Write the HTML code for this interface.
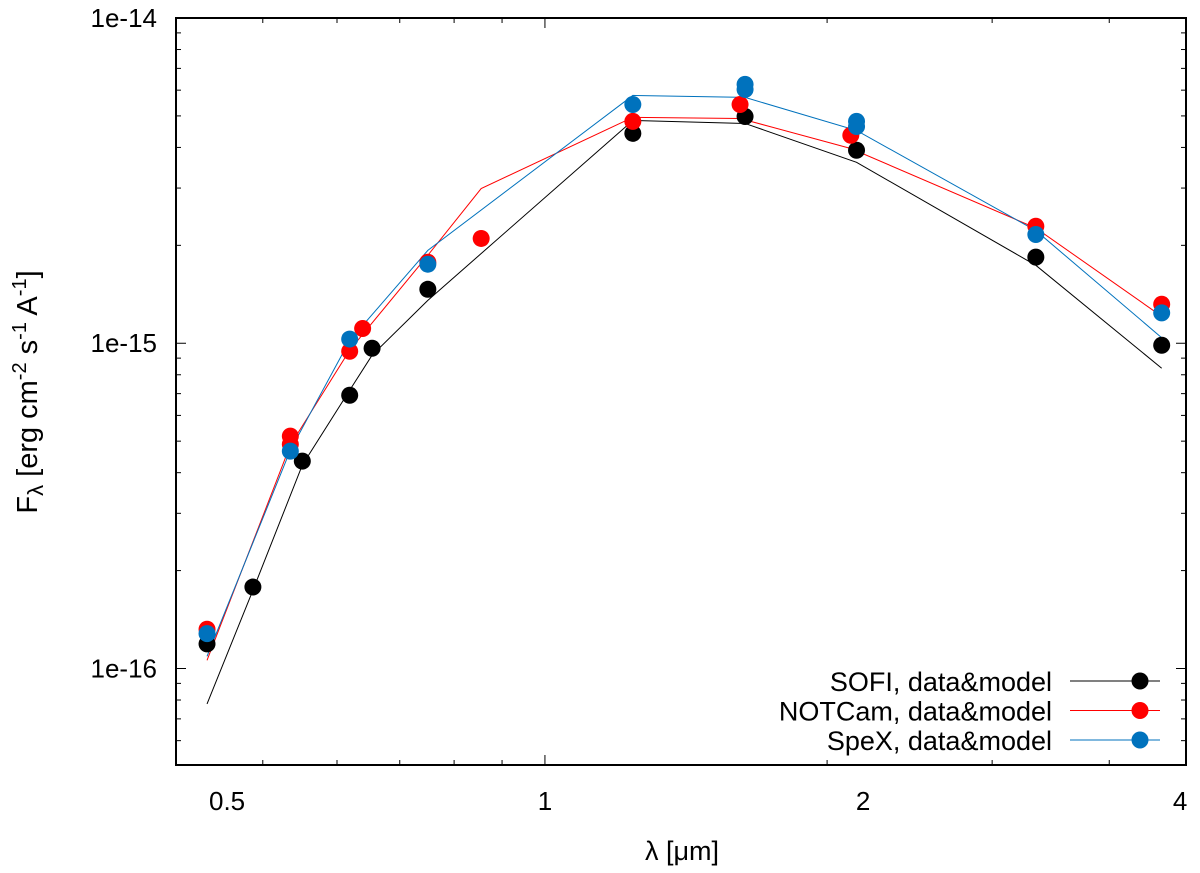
<!DOCTYPE html>
<html><head><meta charset="utf-8"><style>
body{margin:0;background:#fff;}
svg text{font-family:"Liberation Sans",sans-serif;}
</style></head><body>
<svg id="chart" width="1200" height="868" xmlns="http://www.w3.org/2000/svg">
<rect width="1200" height="868" fill="#fff"/>
<g id="grid"></g>
<g id="series"></g>
<rect x="176" y="18" width="1010" height="747" fill="none" stroke="#000" stroke-width="2"/>
<text x="37" y="392" font-size="29" text-anchor="middle" transform="rotate(-90 37 392)">F<tspan font-size="22" dy="6">λ</tspan><tspan dy="-6"> [erg cm</tspan><tspan font-size="20" dy="-11">-2</tspan><tspan dy="11"> s</tspan><tspan font-size="20" dy="-11">-1</tspan><tspan dy="11"> A</tspan><tspan font-size="20" dy="-11">-1</tspan><tspan dy="11">]</tspan></text>
<text x="682" y="860" font-size="27" text-anchor="middle">λ [μm]</text>
<g id="legend"></g>
</svg>
<script>
const NS="http://www.w3.org/2000/svg";
const X0=176,X1=1186,Y0=18,Y1=765;
const xmin=0.404,xmax=4.83,ymin=5.05e-17,ymax=1e-14;
function sx(v){return X0+(Math.log10(v)-Math.log10(xmin))/(Math.log10(xmax)-Math.log10(xmin))*(X1-X0);}
function sy(v){return Y1-(Math.log10(v)-Math.log10(ymin))/(Math.log10(ymax)-Math.log10(ymin))*(Y1-Y0);}

const sofiX=[0.436,0.488,0.551,0.619,0.654,0.750,1.241,1.635,2.15,3.34,4.55];
const sofiData=[1.19e-16,1.78e-16,4.34e-16,6.92e-16,9.65e-16,1.465e-15,4.42e-15,4.98e-15,3.92e-15,1.84e-15,9.86e-16];
const sofiModel=[7.78e-17,1.74e-16,4.22e-16,7.17e-16,9.19e-16,1.355e-15,4.84e-15,4.74e-15,3.60e-15,1.736e-15,8.38e-16];
const notX=[0.436,0.535,0.535,0.619,0.639,0.750,0.855,1.241,1.615,2.12,3.34,4.55];
const notData=[1.32e-16,5.18e-16,4.89e-16,9.45e-16,1.11e-15,1.774e-15,2.10e-15,4.81e-15,5.42e-15,4.36e-15,2.29e-15,1.318e-15];
const notModelX=[0.436,0.535,0.619,0.750,0.855,1.241,1.615,2.12,3.34,4.55];
const notModel=[1.06e-16,4.86e-16,9.52e-16,1.864e-15,2.99e-15,4.95e-15,4.91e-15,3.97e-15,2.26e-15,1.21e-15];
const spexX=[0.436,0.535,0.619,0.750,1.241,1.635,1.635,2.15,2.15,3.34,4.55];
const spexData=[1.28e-16,4.66e-16,1.03e-15,1.75e-15,5.42e-15,6.25e-15,6.03e-15,4.81e-15,4.64e-15,2.16e-15,1.24e-15];
const spexModelX=[0.436,0.535,0.619,0.750,1.241,1.635,2.15,3.34,4.55];
const spexModel=[1.09e-16,4.69e-16,1.02e-15,1.93e-15,5.78e-15,5.70e-15,4.51e-15,2.22e-15,1.04e-15];
const yTickVals=[1e-16,1e-15,1e-14];
const yTickLabels=["1e-16","1e-15","1e-14"];
const xTickVals=[0.458,1,2.185,4.76];
const xTickLabels=["0.5","1","2","4"];

const grid=document.getElementById('grid');
function mk(tag,attrs,parent){const e=document.createElementNS(NS,tag);for(const k in attrs)e.setAttribute(k,attrs[k]);parent.appendChild(e);return e;}
for(let d=-17;d<=-14;d++){for(let m=1;m<=9;m++){const v=m*Math.pow(10,d);if(v<ymin||v>ymax*1.0001)continue;const y=sy(v);const L=m===1?10:5;
const t1=mk('line',{x1:X0,x2:X0+L,y1:y,y2:y,stroke:'#000','stroke-width':1},grid);


const t2=mk('line',{x1:X1,x2:X1-L,y1:y,y2:y,stroke:'#000','stroke-width':1},grid);

}}
yTickVals.forEach((v,i)=>{const t=mk('text',{x:157,y:sy(v)+9,'font-size':26,'text-anchor':'end'},grid);t.textContent=yTickLabels[i];

});
[0.5,0.6,0.7,0.8,0.9,1,2,3,4].forEach(v=>{const x=sx(v);const L=v===1?10:5;
const t1=mk('line',{x1:x,x2:x,y1:Y1,y2:Y1-L,stroke:'#000','stroke-width':1},grid);


const t2=mk('line',{x1:x,x2:x,y1:Y0,y2:Y0+L,stroke:'#000','stroke-width':1},grid);

});
xTickVals.forEach((v,i)=>{const t=mk('text',{x:sx(v),y:810,'font-size':26,'text-anchor':'middle'},grid);t.textContent=xTickLabels[i];

});

const ser=document.getElementById('series');
function line(xs,ys,color,name){const p=mk('polyline',{points:xs.map((x,i)=>sx(x)+','+sy(ys[i])).join(' '),fill:'none',stroke:color,'stroke-width':1},ser);

}
function pts(xs,ys,color,name){xs.forEach((x,i)=>{const c=mk('circle',{cx:sx(x),cy:sy(ys[i]),r:8.5,fill:color},ser);

});}
line(sofiX,sofiModel,'#000','sofi-model-line');
line(notModelX,notModel,'#ff0000','notcam-model-line');
line(spexModelX,spexModel,'#0072bd','spex-model-line');
pts(sofiX,sofiData,'#000','sofi-point');
pts(notX,notData,'#ff0000','notcam-point');
pts(spexX,spexData,'#0072bd','spex-point');

const leg=document.getElementById('legend');
[["SOFI, data&model","#000"],["NOTCam, data&model","#ff0000"],["SpeX, data&model","#0072bd"]].forEach((e,i)=>{const y=681+i*29.5;
const t=mk('text',{x:1052,y:y+10,'font-size':27,'text-anchor':'end'},leg);t.textContent=e[0];


const l=mk('line',{x1:1070,x2:1160,y1:y,y2:y,stroke:e[1],'stroke-width':1},leg);


const c=mk('circle',{cx:1140,cy:y,r:8.5,fill:e[1]},leg);

});
</script>
</body></html>
